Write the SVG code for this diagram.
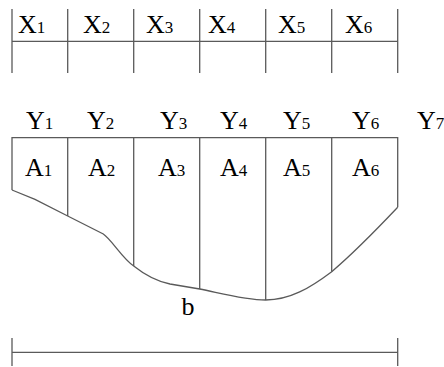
<svg xmlns="http://www.w3.org/2000/svg" width="444" height="367" viewBox="0 0 444 367">
<style>
.ln{stroke:#5a5a5a;stroke-width:1.3;fill:none}
.t{font-family:"Liberation Serif","Times New Roman",serif;font-size:26px;fill:#000}
.s{font-size:17px}
</style>
<rect width="444" height="367" fill="#fff"/>
<g id="top-table">
<path class="ln" d="M12,9V73M67.7,9V73M133.7,9V73M199.7,9V73M265.7,9V73M331.7,9V73M397.7,9V73M12,41.3H397.7"/>
<text class="t" x="18" y="33">X<tspan class="s">1</tspan></text>
<text class="t" x="83" y="33">X<tspan class="s">2</tspan></text>
<text class="t" x="146" y="33">X<tspan class="s">3</tspan></text>
<text class="t" x="208" y="33">X<tspan class="s">4</tspan></text>
<text class="t" x="278" y="33">X<tspan class="s">5</tspan></text>
<text class="t" x="345" y="33">X<tspan class="s">6</tspan></text>
</g>
<g id="y-labels">
<text class="t" x="26" y="129">Y<tspan class="s">1</tspan></text>
<text class="t" x="87" y="129">Y<tspan class="s">2</tspan></text>
<text class="t" x="160" y="129">Y<tspan class="s">3</tspan></text>
<text class="t" x="220" y="129">Y<tspan class="s">4</tspan></text>
<text class="t" x="283" y="129">Y<tspan class="s">5</tspan></text>
<text class="t" x="352" y="129">Y<tspan class="s">6</tspan></text>
<text class="t" x="417" y="129">Y<tspan class="s">7</tspan></text>
</g>
<g id="section">
<path class="ln" d="M12,190V137.7H397.7V207.3"/>
<path class="ln" d="M67.7,137.7V216M133.7,137.7V266M199.7,137.7V289M265.7,137.7V300M331.7,137.7V271.7"/>
<path class="ln" d="M12,190L35,199.3L67.7,216L103.3,234C112,240 122,258 133.7,266C145,275 155,281 170,284L199.7,289C220,293 245,300 265.7,300C290,300 310,288 331.7,271.7C355,252 380,226 397.7,207.3"/>
<text class="t" x="25" y="176">A<tspan class="s">1</tspan></text>
<text class="t" x="88" y="176">A<tspan class="s">2</tspan></text>
<text class="t" x="158" y="176">A<tspan class="s">3</tspan></text>
<text class="t" x="220" y="176">A<tspan class="s">4</tspan></text>
<text class="t" x="283" y="176">A<tspan class="s">5</tspan></text>
<text class="t" x="352" y="176">A<tspan class="s">6</tspan></text>
</g>
<g id="width">
<text class="t" x="181.5" y="315">b</text>
<path class="ln" d="M12,338V366M397.7,338V366M12,352.3H397.7"/>
</g>
</svg>
